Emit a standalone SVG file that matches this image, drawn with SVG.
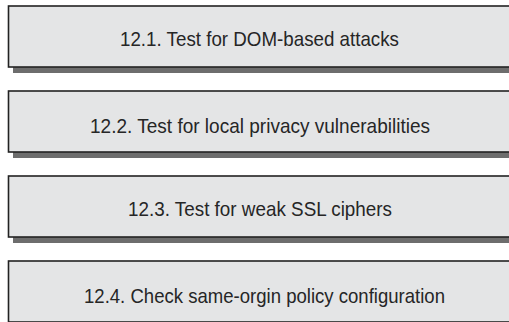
<svg xmlns="http://www.w3.org/2000/svg" width="509" height="322" viewBox="0 0 509 322">
<style>
.shadow{fill:#6d6d6d}
.box{fill:#e4e5e6;stroke:#222;stroke-width:1.6}
.lbl{font-family:"Liberation Sans Narrow","Liberation Sans",Arial,sans-serif;font-size:21px;fill:#262626;text-anchor:middle}
</style>
<rect width="509" height="322" fill="#fff"/>
<g id="step-12-1">
<rect class="shadow" x="13" y="11" width="500" height="62"/>
<rect class="box" x="8.5" y="6" width="503" height="61"/>
<text class="lbl" x="259.5" y="46" textLength="279" lengthAdjust="spacingAndGlyphs">12.1. Test for DOM-based attacks</text>
</g>
<g id="step-12-2">
<rect class="shadow" x="13" y="96" width="500" height="62"/>
<rect class="box" x="8.5" y="91" width="503" height="61"/>
<text class="lbl" x="260" y="132.5" textLength="340" lengthAdjust="spacingAndGlyphs">12.2. Test for local privacy vulnerabilities</text>
</g>
<g id="step-12-3">
<rect class="shadow" x="13" y="181" width="500" height="62"/>
<rect class="box" x="8.5" y="176" width="503" height="61"/>
<text class="lbl" x="260" y="215.5" textLength="264" lengthAdjust="spacingAndGlyphs">12.3. Test for weak SSL ciphers</text>
</g>
<g id="step-12-4">
<rect class="shadow" x="13" y="266" width="500" height="62"/>
<rect class="box" x="8.5" y="261" width="503" height="61"/>
<text class="lbl" x="264.5" y="303" textLength="361" lengthAdjust="spacingAndGlyphs">12.4. Check same-orgin policy configuration</text>
</g>
<g id="connectors"/>
</svg>
